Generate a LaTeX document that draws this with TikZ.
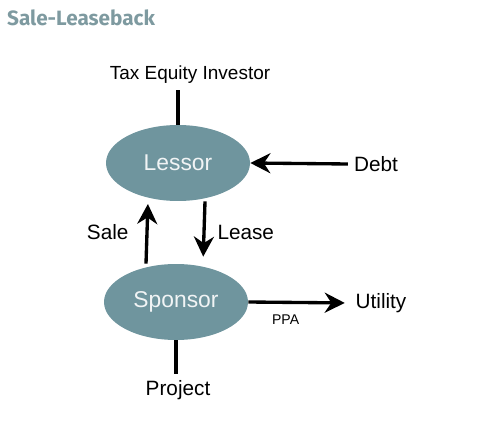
\documentclass[tikz,border=0pt]{standalone}
\usepackage{fontspec}
\setmainfont{Liberation Sans}
\newfontfamily\titlefont{Fira Sans}
\usetikzlibrary{arrows.meta,shapes.geometric}
\definecolor{slate}{HTML}{6F959E}
\definecolor{titlegray}{HTML}{7E9AA0}
\begin{document}
\begin{tikzpicture}[
    party/.style={ellipse, fill=slate, text=white!90!slate, minimum width=2.88cm, minimum height=1.52cm, inner sep=0pt, font=\fontsize{13}{15}\selectfont},
    lbl/.style={font=\fontsize{11.8}{14}\selectfont},
    arr/.style={line width=1.9pt, -{Stealth[length=4mm,width=4mm]}},
    bar/.style={line width=1.9pt}
  ]
  \useasboundingbox (0,0) rectangle (10,8.92);
  \node[anchor=west, text=titlegray, font=\titlefont\bfseries\fontsize{11.8}{14}\selectfont] (title) at (0.02,8.56) {Sale-Leaseback};

  \node[lbl, font=\fontsize{10.8}{13}\selectfont] (tax) at (3.8,7.42) {Tax Equity Investor};
  \node[party] (lessor) at (3.56,5.66) {Lessor};
  \node[lbl] (debt) at (7.52,5.64) {Debt};
  \node[party] (sponsor) at (3.52,2.88) {Sponsor};
  \node[lbl, inner sep=2pt] (utility) at (7.62,2.86) {Utility};
  \node[lbl] (project) at (3.56,1.12) {Project};

  \draw[bar] (lessor.north) -- (lessor.north |- tax.south);
  \draw[arr] (debt.west) -- (lessor.east);
  \draw[arr, shorten >=1.5pt] ([xshift=-0.6cm]sponsor.north) -- node[lbl, left=0.22cm] (sale) {Sale} ([xshift=-0.6cm]lessor.south);
  \draw[arr, shorten >=4pt] ([xshift=0.54cm]lessor.south) -- node[lbl, right=0.12cm] (lease) {Lease} ([xshift=0.54cm]sponsor.north);
  \draw[arr, shorten >=4pt] (sponsor.east) -- node[pos=0.36, below=3pt, font=\fontsize{8}{9}\selectfont] (ppa) {PPA} (utility.west);
  \draw[bar] (sponsor.south) -- (sponsor.south |- project.north);
\end{tikzpicture}
\end{document}
